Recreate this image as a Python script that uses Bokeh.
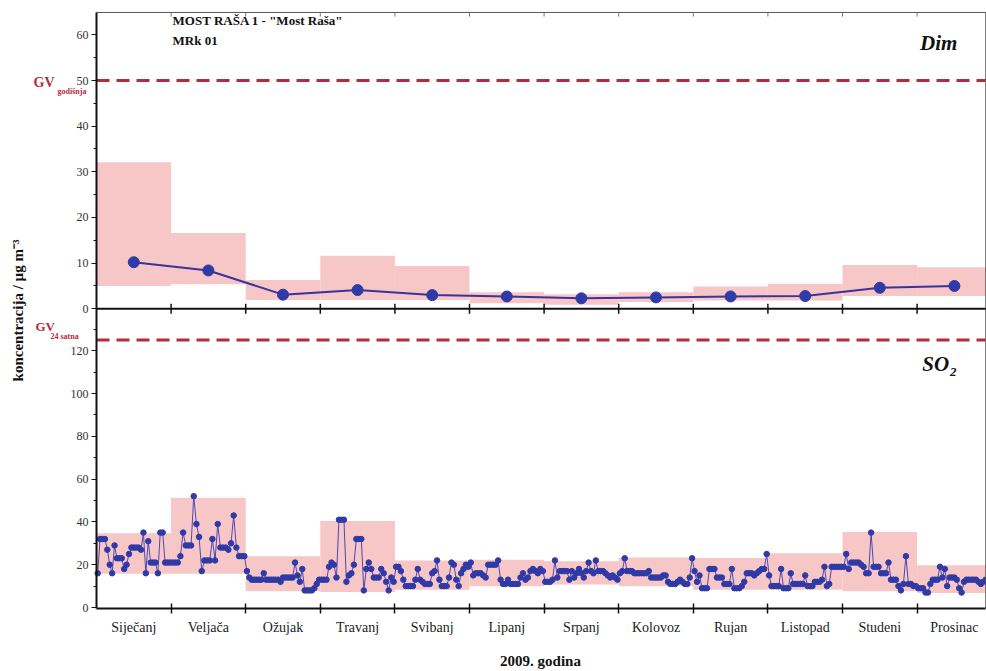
import math

from bokeh.plotting import figure
from bokeh.models import Range1d, FixedTicker, Label, ColumnDataSource
from bokeh.embed import file_html
from bokeh.resources import INLINE

# ---- data -------------------------------------------------------------
months = ["Siječanj", "Veljača", "Ožujak", "Travanj", "Svibanj", "Lipanj",
          "Srpanj", "Kolovoz", "Rujan", "Listopad", "Studeni", "Prosinac"]

# smoke ("Dim"): monthly mean and monthly range, µg/m3
dim_mean = [10.2, 8.4, 3.1, 4.1, 3.0, 2.7, 2.3, 2.5, 2.7, 2.8, 4.6, 5.0]
dim_low = [5.0, 5.4, 1.9, 1.9, 1.9, 1.2, 0.9, 1.5, 1.8, 1.8, 2.8, 2.8]
dim_high = [32.1, 16.6, 6.3, 11.6, 9.4, 3.6, 3.2, 3.6, 4.9, 5.5, 9.6, 9.1]

# SO2: monthly range, µg/m3
so2_low = [15.8, 15.8, 7.6, 7.2, 8.3, 9.9, 10.7, 9.9, 8.3, 8.3, 7.6, 6.8]
so2_high = [34.7, 51.3, 23.9, 40.4, 22.0, 22.3, 21.6, 23.4, 23.1, 25.3, 35.3, 19.8]

# SO2: daily 24-hour values, one list per month
so2_jan = [16, 32, 32, 32, 27, 20, 16, 29, 23, 23, 23, 18, 20, 25, 28, 28,
           28, 28, 27, 35, 16, 31, 21, 21, 21, 16, 35, 35, 21, 21, 21]
so2_feb = [21, 21, 21, 24, 35, 29, 29, 29, 52, 39, 33, 17, 22, 22, 22, 32,
           22, 39, 28, 28, 28, 27, 30, 43, 28, 24, 24, 24]
so2_mar = [17, 14, 13, 13, 13, 13, 13, 16, 13, 13, 13, 13, 13, 13, 12, 14,
           14, 14, 14, 14, 21, 15, 12, 18, 8, 8, 8, 8, 9, 11, 13]
so2_apr = [13, 13, 13, 19, 21, 20, 14, 41, 41, 41, 12, 15, 16, 20, 32, 32,
           32, 8, 18, 21, 18, 14, 14, 14, 18, 16, 12, 8, 14, 12]
so2_may = [19, 19, 17, 13, 10, 10, 10, 10, 13, 18, 13, 12, 11, 11, 11, 16,
           17, 22, 13, 10, 10, 10, 14, 21, 20, 13, 10, 16, 18, 20, 19]
so2_jun = [21, 15, 16, 16, 16, 15, 14, 20, 20, 20, 20, 22, 13, 11, 11, 13,
           11, 11, 11, 11, 14, 16, 13, 14, 17, 18, 17, 16, 18, 17]
so2_jul = [12, 12, 12, 13, 22, 14, 17, 17, 17, 17, 13, 17, 14, 16, 18, 16,
           14, 17, 21, 17, 16, 22, 17, 17, 17, 16, 15, 14, 15, 14, 13]
so2_aug = [16, 17, 23, 17, 17, 17, 16, 16, 16, 16, 16, 16, 17, 14, 14, 14,
           14, 14, 15, 15, 12, 11, 11, 11, 12, 13, 12, 11, 11, 14, 23]
so2_sep = [17, 12, 15, 9, 9, 9, 18, 18, 18, 14, 14, 14, 11, 11, 11, 18,
           9, 9, 9, 10, 12, 16, 16, 16, 15, 16, 17, 18, 18, 25]
so2_oct = [15, 10, 10, 10, 10, 18, 9, 9, 9, 16, 11, 11, 11, 11, 11, 15,
           10, 10, 10, 12, 12, 12, 13, 19, 10, 11, 19, 19, 19, 19, 19]
so2_nov = [19, 25, 18, 21, 21, 21, 21, 20, 19, 16, 16, 35, 19, 19, 19, 16,
           16, 16, 21, 13, 13, 13, 10, 8, 11, 24, 11, 11, 10, 10]
so2_dec = [9, 9, 9, 7, 7, 11, 13, 13, 13, 19, 14, 18, 10, 14, 14, 14,
           13, 9, 7, 12, 13, 13, 13, 13, 13, 12, 11, 12, 13, 12, 11]
so2_daily = [so2_jan, so2_feb, so2_mar, so2_apr, so2_may, so2_jun,
             so2_jul, so2_aug, so2_sep, so2_oct, so2_nov, so2_dec]

# limit values
gv_dim_annual = 50
gv_so2_24h = 125

dim_ticks = [0, 10, 20, 30, 40, 50, 60]
so2_ticks = [0, 20, 40, 60, 80, 100, 120]

# ---- style ------------------------------------------------------------
PINK = "#f7c6c7"
BLUE = "#2f3aa6"
LINE_BLUE = "#3a339c"
RED = "#b52a3c"
INK = "#111111"
SERIF = "Liberation Serif"

# ---- geometry ---------------------------------------------------------
# The whole canvas is one frame.  Upper panel = smoke on the default y
# range, lower panel = SO2 on an extra y range; both axes are pinned
# inside the frame so the margins can hold the annotations.
W, H = 986, 671
FRAME_TOP = 10
PLOT_LEFT = 96            # px where month 0 starts
PX_PER_MONTH = 74.6
DIM_ZERO_PX, PX_PER_DIM = 308.3, 4.566
SO2_ZERO_PX, PX_PER_SO2 = 607.0, 2.14

DIM_LO = (DIM_ZERO_PX - H) / PX_PER_DIM
DIM_HI = (DIM_ZERO_PX - FRAME_TOP) / PX_PER_DIM
SO2_LO = (SO2_ZERO_PX - H) / PX_PER_SO2
SO2_HI = (SO2_ZERO_PX - FRAME_TOP) / PX_PER_SO2
X_START = -PLOT_LEFT / PX_PER_MONTH
X_END = (W - PLOT_LEFT) / PX_PER_MONTH
X_EDGE = X_END - 0.01
DIM_TOP = 64.9            # top edge of the upper panel
SO2_FLOOR = -0.5          # bottom edge of the lower panel


def so2_to_dim(v):
    return DIM_LO + (v - SO2_LO) * (DIM_HI - DIM_LO) / (SO2_HI - SO2_LO)


def px_x(px):
    return X_START + px / PX_PER_MONTH


p = figure(width=W, height=H,
           x_range=Range1d(X_START, X_END), y_range=Range1d(DIM_LO, DIM_HI),
           output_backend="svg", toolbar_location=None,
           min_border_left=0, min_border_right=0,
           min_border_top=FRAME_TOP, min_border_bottom=0,
           background_fill_color="white", border_fill_color="white")
p.extra_y_ranges = {"so2": Range1d(SO2_LO, SO2_HI)}
p.grid.visible = False
p.outline_line_color = None

# ---- smoke panel ------------------------------------------------------
idx = list(range(len(months)))
centers = [i + 0.5 for i in idx]
dim_src = ColumnDataSource(dict(left=idx, right=[i + 1 for i in idx],
                                low=dim_low, high=dim_high,
                                x=centers, mean=dim_mean))
p.quad(left="left", right="right", bottom="low", top="high", source=dim_src,
       fill_color=PINK, line_color=None)
p.line("x", "mean", source=dim_src, line_color=LINE_BLUE, line_width=2)
p.scatter("x", "mean", source=dim_src, size=11, marker="circle",
          fill_color=BLUE, line_color=BLUE)

# ---- SO2 panel --------------------------------------------------------
so2_src = ColumnDataSource(dict(left=idx, right=[i + 1 for i in idx],
                                low=so2_low, high=so2_high))
p.quad(left="left", right="right", bottom="low", top="high", source=so2_src,
       fill_color=PINK, line_color=None, y_range_name="so2")

day_x, day_y = [], []
for m, vals in enumerate(so2_daily):
    n = len(vals)
    for d, v in enumerate(vals):
        day_x.append(m + (d + 0.5) / n)
        day_y.append(v)
p.line(day_x, day_y, line_color="#5048ad", line_width=1, y_range_name="so2")
p.scatter(day_x, day_y, size=5.5, marker="circle", fill_color=BLUE,
          line_color=BLUE, y_range_name="so2")

# ---- limit values -----------------------------------------------------
p.segment(x0=[0], x1=[X_EDGE], y0=[gv_dim_annual], y1=[gv_dim_annual],
          line_color=RED, line_width=3, line_dash="13 7")
p.segment(x0=[0], x1=[X_EDGE], y0=[gv_so2_24h], y1=[gv_so2_24h],
          line_color=RED, line_width=3, line_dash="13 7", y_range_name="so2")

# ---- panel frame: top edge, right edge, separator ---------------------
bounds = list(range(1, len(months)))
nb = len(bounds)
axis_floor = so2_to_dim(SO2_FLOOR)
p.segment(x0=[0], x1=[X_EDGE], y0=[DIM_TOP], y1=[DIM_TOP],
          line_color="#555555", line_width=1)
p.segment(x0=[X_EDGE], x1=[X_EDGE], y0=[axis_floor], y1=[DIM_TOP],
          line_color="#555555", line_width=1)
p.segment(x0=[0], x1=[X_EDGE], y0=[0], y1=[0], line_color=INK, line_width=2)
p.segment(x0=bounds, x1=bounds, y0=[-1.1] * nb, y1=[1.1] * nb,
          line_color=INK, line_width=1.5)
p.segment(x0=bounds, x1=bounds, y0=[DIM_TOP] * nb, y1=[DIM_TOP - 0.9] * nb,
          line_color="#777777", line_width=1)

# ---- axes -------------------------------------------------------------
yticks = [float(t) for t in dim_ticks] + [so2_to_dim(t) for t in so2_ticks]
yminor = [float(t) for t in range(0, 65, 5)] + \
         [so2_to_dim(t) for t in range(0, 135, 10)]
overrides = {float(t): str(t) for t in dim_ticks}
overrides.update({so2_to_dim(t): str(t) for t in so2_ticks})

ya = p.yaxis[0]
ya.fixed_location = 0
ya.bounds = (axis_floor, DIM_TOP)
ya.ticker = FixedTicker(ticks=yticks, minor_ticks=yminor)
ya.major_label_overrides = overrides
ya.axis_line_width = 2
ya.axis_line_color = INK
ya.major_tick_out = 5
ya.major_tick_in = 0
ya.minor_tick_out = 3
ya.minor_tick_in = 0
ya.major_tick_line_color = INK
ya.minor_tick_line_color = INK
ya.major_label_standoff = 3
ya.major_label_text_font = SERIF
ya.major_label_text_font_size = "12px"
ya.major_label_text_color = "#333333"

xa = p.xaxis[0]
xa.fixed_location = axis_floor
xa.bounds = (0, X_EDGE)
xa.ticker = FixedTicker(ticks=centers, minor_ticks=bounds)
xa.major_label_overrides = {c: m for c, m in zip(centers, months)}
xa.axis_line_width = 2
xa.axis_line_color = INK
xa.major_tick_line_color = None
xa.major_tick_out = 6
xa.major_tick_in = 0
xa.minor_tick_in = 5
xa.minor_tick_out = 5
xa.minor_tick_line_color = INK
xa.minor_tick_line_width = 1.5
xa.major_label_standoff = 5
xa.major_label_text_font = SERIF
xa.major_label_text_font_size = "14px"
xa.major_label_text_color = "#222222"


# ---- texts ------------------------------------------------------------
def label(x, y, text, size, style="bold", color=INK, align="left",
          range_name="default", angle=0.0):
    p.add_layout(Label(x=x, y=y, text=text, text_font=SERIF,
                       text_font_size=size, text_font_style=style,
                       text_color=color, text_align=align, angle=angle,
                       text_baseline="middle", y_range_name=range_name))


# axis titles
label(px_x(17), (DIM_ZERO_PX - 310) / PX_PER_DIM, "koncentracija / µg m⁻³",
      "15px", align="center", angle=math.pi / 2)
label(px_x(540), (SO2_ZERO_PX - 660) / PX_PER_SO2, "2009. godina", "15px",
      align="center", range_name="so2")

label(1.02, 63.1, 'MOST RAŠA 1 - "Most Raša"', "13px")
label(1.02, 58.8, "MRk 01", "13px")
label(11.54, 58.3, "Dim", "21px", style="bold italic", align="right")
label(11.43, 113.6, "SO", "21px", style="bold italic", align="right",
      range_name="so2")
label(11.44, 110.0, "2", "13px", style="bold italic", range_name="so2")

label(px_x(33), 49.6, "GV", "14px", color=RED)
label(px_x(57), 47.5, "godišnja", "8px", color=RED)
label(px_x(35), 131.4, "GV", "13px", color=RED, range_name="so2")
label(px_x(50), 126.6, "24 satna", "8px", color=RED, range_name="so2")

open("out.html", "w").write(file_html(p, INLINE))
